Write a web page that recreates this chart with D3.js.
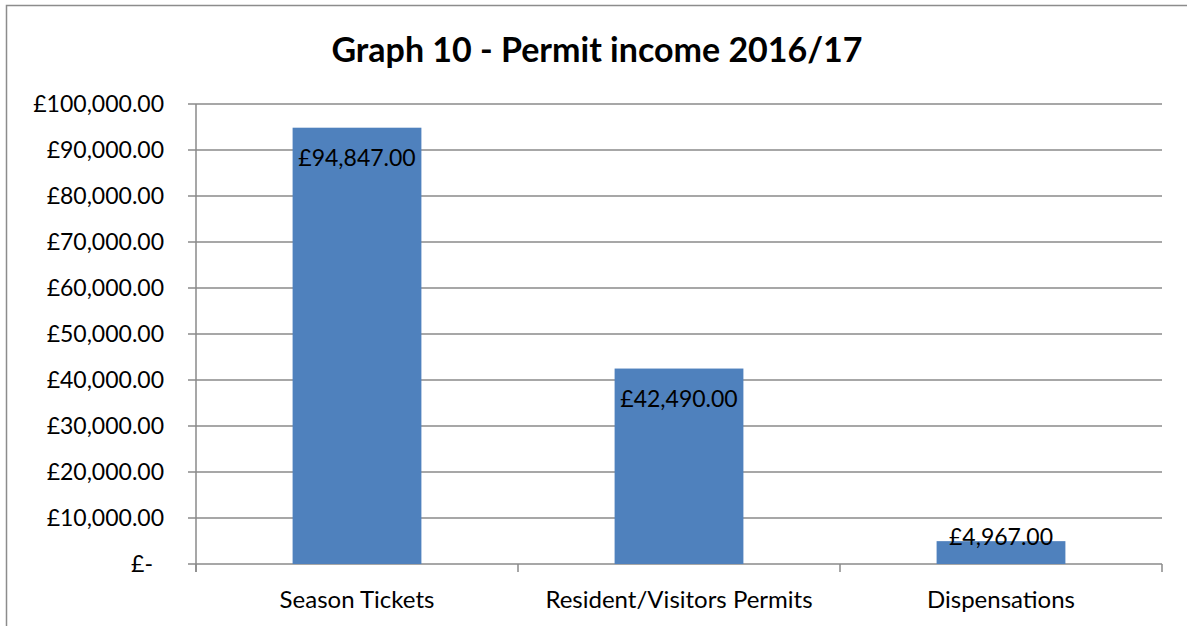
<html>
<head>
<script src="https://d3js.org/d3.v7.min.js"></script>
<style>
body { margin: 0; background: #fff; }
text { font-family: Lato, "Liberation Sans", sans-serif; }
</style>
</head>
<body>
<script>
var categories = ["Season Tickets", "Resident/Visitors Permits", "Dispensations"];
var values = [94847, 42490, 4967];
var tickValues = [0, 10000, 20000, 30000, 40000, 50000, 60000, 70000, 80000, 90000, 100000];

var width = 1187, height = 626;
var plotLeft = 196, plotRight = 1162, plotTop = 104, plotBottom = 564;

var svg = d3.select("body").append("svg")
    .attr("width", width)
    .attr("height", height);

// chart border
svg.append("rect")
    .attr("x", 6.5).attr("y", 5.5)
    .attr("width", 1300).attr("height", 700)
    .style("fill", "#fff")
    .style("stroke", "#8c8c8c")
    .style("stroke-width", 1.5);

var x = d3.scaleBand().domain(categories).range([plotLeft, plotRight]).paddingInner(0.6).paddingOuter(0.3);
var xOuter = d3.scaleBand().domain(categories).range([plotLeft, plotRight]);
var y = d3.scaleLinear().domain([0, 100000]).range([plotBottom, plotTop]);

var fmt = function(v) {
    if (v === 0) return "£-";
    return "£" + d3.format(",.2f")(v);
};

// gridlines
svg.append("g").selectAll("line").data(tickValues).enter()
    .append("line")
    .attr("x1", plotLeft - 8).attr("x2", plotRight)
    .attr("y1", function(d) { return y(d); })
    .attr("y2", function(d) { return y(d); })
    .style("stroke", "#8a8a8a")
    .style("stroke-width", 1.5);

// y axis line
svg.append("line")
    .attr("x1", plotLeft).attr("x2", plotLeft)
    .attr("y1", plotTop).attr("y2", plotBottom + 8)
    .style("stroke", "#8a8a8a").style("stroke-width", 1.5);

// x ticks at category boundaries
var bounds = categories.map(function(c) { return xOuter(c); }).concat([plotRight]);
svg.append("g").selectAll("line").data(bounds).enter()
    .append("line")
    .attr("x1", function(d) { return d; }).attr("x2", function(d) { return d; })
    .attr("y1", plotBottom).attr("y2", plotBottom + 8)
    .style("stroke", "#8a8a8a").style("stroke-width", 1.5);

// y tick labels (accounting format: zero shown as "£-" with padding)
svg.append("g").selectAll("text").data(tickValues).enter()
    .append("text")
    .attr("x", function(d) { return d === 0 ? 153 : 164; })
    .attr("y", function(d) { return y(d); })
    .attr("dy", "0.35em")
    .attr("text-anchor", "end")
    .style("font-size", "23px")
    .style("fill", "#000")
    .text(fmt);

// bars
svg.append("g").selectAll("rect").data(values).enter()
    .append("rect")
    .attr("x", function(d, i) { return x(categories[i]); })
    .attr("width", x.bandwidth())
    .attr("y", function(d) { return y(d); })
    .attr("height", function(d) { return y(0) - y(d); })
    .style("fill", "#4f81bd");

// data labels
svg.append("g").selectAll("text").data(values).enter()
    .append("text")
    .attr("x", function(d, i) { return x(categories[i]) + x.bandwidth() / 2; })
    .attr("y", function(d) { return Math.min(y(d) + 30, y(0) - 27); })
    .attr("dy", "0.35em")
    .attr("text-anchor", "middle")
    .style("font-size", "23px")
    .style("fill", "#000")
    .text(fmt);

// category labels
svg.append("g").selectAll("text").data(categories).enter()
    .append("text")
    .attr("x", function(d) { return xOuter(d) + xOuter.bandwidth() / 2; })
    .attr("y", 600)
    .attr("dy", "0.35em")
    .attr("text-anchor", "middle")
    .style("font-size", "24px")
    .style("fill", "#000")
    .text(function(d) { return d; });

// title
svg.append("text")
    .attr("x", 597)
    .attr("y", 50)
    .attr("dy", "0.35em")
    .attr("text-anchor", "middle")
    .style("font-size", "34px")
    .style("font-weight", "bold")
    .style("fill", "#000")
    .text("Graph 10 - Permit income 2016/17");
</script>
</body>
</html>
